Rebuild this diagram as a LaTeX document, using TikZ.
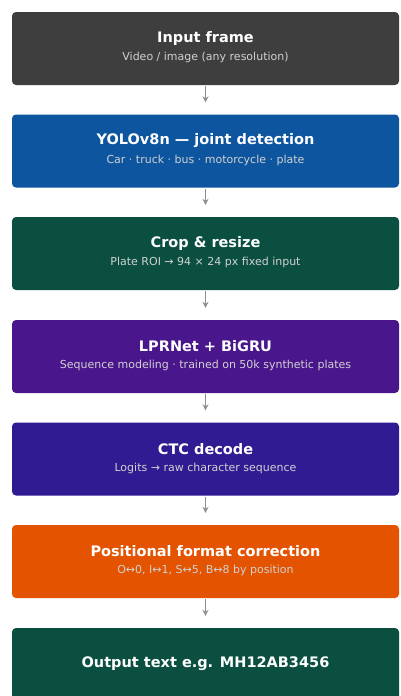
\documentclass[tikz,border=0pt]{standalone}
\usepackage{fontspec}
\setmainfont{DejaVu Sans}
\usetikzlibrary{arrows.meta}
\definecolor{cgray}{HTML}{3E3E3E}
\definecolor{cblue}{HTML}{0D559E}
\definecolor{cgreen}{HTML}{0A4F40}
\definecolor{cpurple}{HTML}{4A168C}
\definecolor{cindigo}{HTML}{311B92}
\definecolor{corange}{HTML}{E35300}
\definecolor{carrow}{HTML}{8E8E8E}
\tikzset{
  x=1pt,y=-1pt,
  stage/.style={draw=none, rounded corners=4pt, minimum width=387pt, minimum height=73pt, inner sep=0pt},
  ttl/.style={text=white, font=\fontsize{14.5}{16}\selectfont\bfseries, inner sep=0pt},
  sub/.style={text=white!82!black, font=\fontsize{11}{13}\selectfont, inner sep=0pt},
  flow/.style={draw=carrow, line width=1.3pt, -{Stealth[length=6pt,width=6pt]}}
}
\begin{document}
\begin{tikzpicture}
\useasboundingbox (0,0) rectangle (400,696);
\fill[white] (0,0) rectangle (400,696);
\begin{scope}
\clip (0,0) rectangle (400,696);
\node[stage, fill=cgray]   (b1) at (205.5,48.5) {};
\node[stage, fill=cblue]   (b2) at (205.5,151) {};
\node[stage, fill=cgreen]  (b3) at (205.5,253.5) {};
\node[stage, fill=cpurple] (b4) at (205.5,356.5) {};
\node[stage, fill=cindigo] (b5) at (205.5,459) {};
\node[stage, fill=corange] (b6) at (205.5,561.5) {};
\node[stage, fill=cgreen]  (b7) at (205.5,664.5) {};
\end{scope}

\node[ttl] (t1) at ([yshift=10pt]b1.center) {Input frame};
\node[sub] (s1) at ([yshift=-9pt]b1.center) {Video / image (any resolution)};
\node[ttl] (t2) at ([yshift=10pt]b2.center) {YOLOv8n — joint detection};
\node[sub] (s2) at ([yshift=-9pt]b2.center) {Car · truck · bus · motorcycle · plate};
\node[ttl] (t3) at ([yshift=10pt]b3.center) {Crop \& resize};
\node[sub] (s3) at ([yshift=-9pt]b3.center) {Plate ROI → 94 × 24 px fixed input};
\node[ttl] (t4) at ([yshift=10pt]b4.center) {LPRNet + BiGRU};
\node[sub] (s4) at ([yshift=-9pt]b4.center) {Sequence modeling · trained on 50k synthetic plates};
\node[ttl] (t5) at ([yshift=10pt]b5.center) {CTC decode};
\node[sub] (s5) at ([yshift=-9pt]b5.center) {Logits → raw character sequence};
\node[ttl] (t6) at ([yshift=10pt]b6.center) {Positional format correction};
\node[sub] (s6) at ([yshift=-9pt]b6.center) {O↔0, I↔1, S↔5, B↔8 by position};
\node[ttl] (t7) at ([yshift=1pt]b7.center) {Output text e.g. MH12AB3456};

\draw[flow] ([yshift=-1pt]b1.south) -- ([yshift=12pt]b2.north);
\draw[flow] ([yshift=-1pt]b2.south) -- ([yshift=12pt]b3.north);
\draw[flow] ([yshift=-1pt]b3.south) -- ([yshift=12pt]b4.north);
\draw[flow] ([yshift=-1pt]b4.south) -- ([yshift=12pt]b5.north);
\draw[flow] ([yshift=-1pt]b5.south) -- ([yshift=12pt]b6.north);
\draw[flow] ([yshift=-1pt]b6.south) -- ([yshift=12pt]b7.north);
\end{tikzpicture}
\end{document}
